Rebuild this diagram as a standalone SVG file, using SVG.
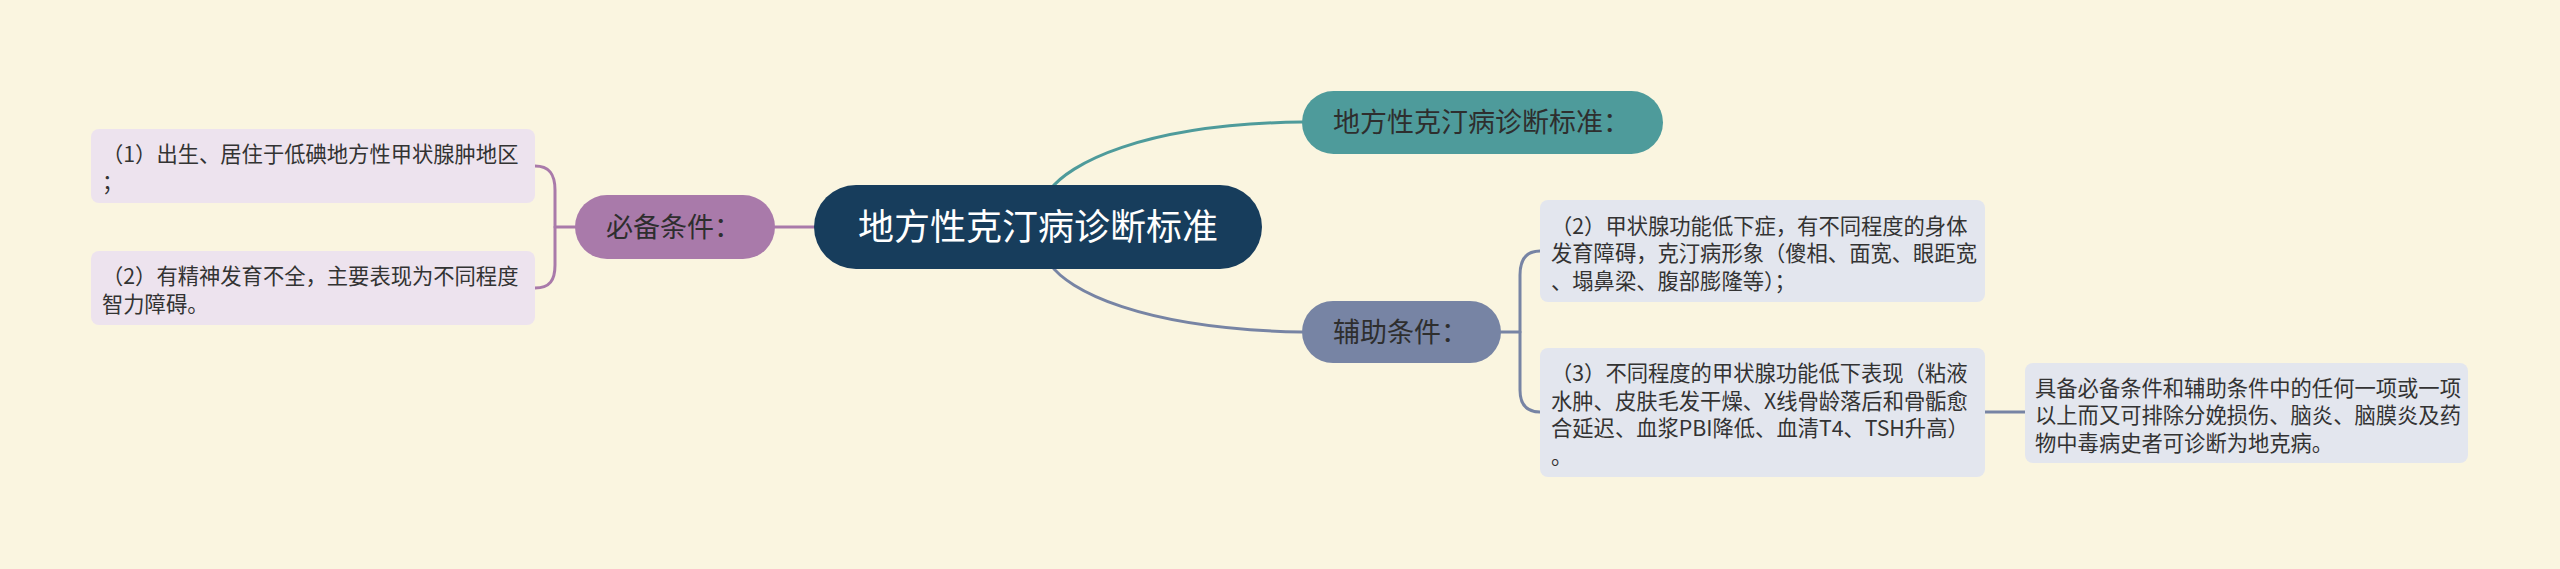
<svg xmlns="http://www.w3.org/2000/svg" width="2560" height="569" viewBox="0 0 2560 569">
<style>
text{font-family:"Noto Sans CJK SC","Noto Sans",sans-serif;}
.leaf{font-size:21.3px;fill:#333333;}
.br{font-size:27px;fill:#2e2e2e;}
.root{font-size:36px;fill:#ffffff;}
.c{fill:none;stroke-width:3;stroke-linecap:round;}
.cp{stroke:#a97aaa;}
.ct{stroke:#4e9b9b;}
.cs{stroke:#7784a4;}
.lp{fill:#ede3ee;}
.ls{fill:#e3e6ee;}
</style>
<rect width="2560" height="569" fill="#faf5e0"/>
<g id="connectors">
<path class="c cp" d="M814,227 L775,227"/>
<path class="c cp" d="M575,227 L555,227"/>
<path class="c cp" d="M535,166 C550,166 555,175 555,190 L555,265 C555,280 550,288 535,288"/>
<path class="c ct" d="M1050,190 C1068,165 1140,124 1302,122"/>
<path class="c cs" d="M1050,264 C1068,290 1140,329 1302,332"/>
<path class="c cs" d="M1501,332 L1520,332"/>
<path class="c cs" d="M1540,251 C1526,251 1520,260 1520,275 L1520,390 C1520,404 1526,412 1540,412"/>
<path class="c cs" d="M1985,412 L2025,412"/>
</g>
<g id="root">
<rect x="814" y="185" width="448" height="84" rx="42" fill="#173d5c"/>
<text class="root" x="1038" y="240" text-anchor="middle">地方性克汀病诊断标准</text>
</g>
<g id="n-bibei">
<rect x="575" y="195" width="200" height="64" rx="32" fill="#a97aaa"/>
<text class="br" x="606" y="237">必备条件：</text>
</g>
<g id="n-biaozhun">
<rect x="1302" y="91" width="361" height="63" rx="31.5" fill="#4e9b9b"/>
<text class="br" x="1333" y="132">地方性克汀病诊断标准：</text>
</g>
<g id="n-fuzhu">
<rect x="1302" y="301" width="199" height="62" rx="31" fill="#7784a4"/>
<text class="br" x="1333" y="342">辅助条件：</text>
</g>
<g id="leaf-1">
<rect class="lp" x="91" y="129" width="444" height="74" rx="8"/>
<text class="leaf" x="102" y="162"><tspan x="102">（1）出生、居住于低碘地方性甲状腺肿地区</tspan><tspan x="102" dy="27.5">；</tspan></text>
</g>
<g id="leaf-2">
<rect class="lp" x="91" y="251" width="444" height="74" rx="8"/>
<text class="leaf" x="102" y="284"><tspan x="102">（2）有精神发育不全，主要表现为不同程度</tspan><tspan x="102" dy="27.5">智力障碍。</tspan></text>
</g>
<g id="leaf-3">
<rect class="ls" x="1540" y="200" width="445" height="102" rx="8"/>
<text class="leaf" x="1551" y="233.5"><tspan x="1551">（2）甲状腺功能低下症，有不同程度的身体</tspan><tspan x="1551" dy="27.5">发育障碍，克汀病形象（傻相、面宽、眼距宽</tspan><tspan x="1551" dy="27.5">、塌鼻梁、腹部膨隆等）；</tspan></text>
</g>
<g id="leaf-4">
<rect class="ls" x="1540" y="348" width="445" height="129" rx="8"/>
<text class="leaf" x="1551" y="381"><tspan x="1551">（3）不同程度的甲状腺功能低下表现（粘液</tspan><tspan x="1551" dy="27.5">水肿、皮肤毛发干燥、X线骨龄落后和骨骺愈</tspan><tspan x="1551" dy="27.5">合延迟、血浆PBI降低、血清T4、TSH升高）</tspan><tspan x="1551" dy="27.5">。</tspan></text>
</g>
<g id="leaf-5">
<rect class="ls" x="2025" y="363" width="443" height="100" rx="8"/>
<text class="leaf" x="2035" y="395.5"><tspan x="2035">具备必备条件和辅助条件中的任何一项或一项</tspan><tspan x="2035" dy="27.5">以上而又可排除分娩损伤、脑炎、脑膜炎及药</tspan><tspan x="2035" dy="27.5">物中毒病史者可诊断为地克病。</tspan></text>
</g>
</svg>
